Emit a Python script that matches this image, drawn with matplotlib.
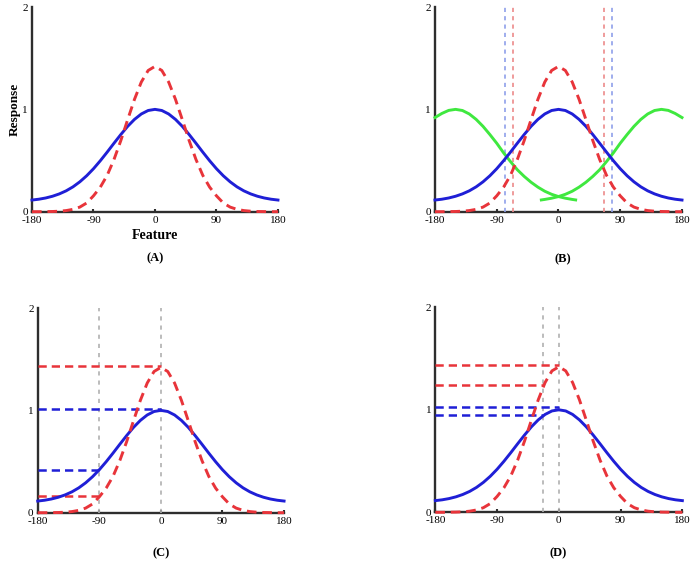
import numpy as np
import matplotlib

matplotlib.use('Agg')

import matplotlib.pyplot as plt

plt.rcParams['font.family'] = ['Liberation Serif', 'DejaVu Serif']

'''Data read off the picture'''

feature = [-180, -170, -160, -150, -140, -130, -120, -110, -100, -90, -80, -70, -60, -50, -40,
           -30, -20, -10, 0, 10, 20, 30, 40, 50, 60, 70, 80, 90, 100, 110, 120, 130, 140, 150,
           160, 170, 180]

# solid blue tuning curve
blue_resp = [0.114, 0.122, 0.134, 0.151, 0.174, 0.204, 0.243, 0.292, 0.351, 0.42, 0.498,
             0.582, 0.669, 0.754, 0.834, 0.902, 0.955, 0.989, 1.0, 0.989, 0.955, 0.902, 0.834,
             0.754, 0.669, 0.582, 0.498, 0.42, 0.351, 0.292, 0.243, 0.204, 0.174, 0.151, 0.134,
             0.122, 0.114]

# dashed red (sharpened) curve
red_resp = [0.0, 0.0, 0.001, 0.002, 0.005, 0.011, 0.023, 0.045, 0.085, 0.155, 0.24, 0.355,
            0.51, 0.695, 0.899, 1.098, 1.267, 1.38, 1.42, 1.38, 1.267, 1.098, 0.899, 0.695,
            0.51, 0.355, 0.24, 0.155, 0.085, 0.045, 0.023, 0.011, 0.005, 0.002, 0.001, 0.0, 0.0]

# green curves in panel B
green_left_x = [-180, -170, -160, -150, -140, -130, -120, -110, -100, -90, -80, -70, -60, -50,
                -40, -30, -20, -10, 0, 10, 20, 25]
green_left_y = [0.92, 0.96, 0.99, 1.0, 0.989, 0.955, 0.902, 0.834, 0.754, 0.669, 0.575, 0.49,
                0.41, 0.345, 0.288, 0.24, 0.2, 0.17, 0.148, 0.132, 0.12, 0.115]
green_right_x = [-25, -20, -10, 0, 10, 20, 30, 40, 50, 60, 70, 80, 90, 100, 110, 120, 130,
                 140, 150, 160, 170, 180]
green_right_y = [0.115, 0.12, 0.132, 0.148, 0.17, 0.2, 0.24, 0.288, 0.345, 0.41, 0.49, 0.575,
                 0.669, 0.754, 0.834, 0.902, 0.955, 0.989, 1.0, 0.99, 0.96, 0.92]

# panel B vertical markers
b_blue_vlines = [-78, 78]
b_red_vlines = [-67, 67]

# panel C markers
c_vlines = [-90, 0]
c_red_levels = [1.43, 0.163]
c_red_ends = [0, -90]
c_blue_levels = [1.01, 0.417]
c_blue_ends = [0, -90]

# panel D markers
d_vlines = [-23, 0]
d_red_levels = [1.437, 1.242]
d_red_ends = [0, -23]
d_blue_levels = [1.024, 0.949]
d_blue_ends = [0, -23]

xtick_vals = [-180, -90, 0, 90, 180]
xtick_labels = ['-180', '-90', '0', '90', '180']
ytick_vals = [0, 1, 2]
panel_names = ['(A)', '(B)', '(C)', '(D)']

BLUE = '#1f1fd6'
RED = '#e8343a'
GREEN = '#3fe83f'
GREY = '#b0b0b0'
AXIS = '#2e2e2e'


def setup_axes(ax):
    ax.set_xlim(-180, 180)
    ax.set_ylim(0, 2)
    for s in ['top', 'right']:
        ax.spines[s].set_visible(False)
    for s in ['left', 'bottom']:
        ax.spines[s].set_color(AXIS)
        ax.spines[s].set_linewidth(1.7)
        ax.spines[s].set_zorder(1)
    ax.set_xticks(xtick_vals)
    ax.set_xticklabels(xtick_labels)
    ax.set_yticks(ytick_vals)
    ax.tick_params(axis='x', direction='in', length=2.5, width=1.5, color=AXIS,
                   labelsize=8, pad=3)
    ax.tick_params(axis='y', length=0, labelsize=8, pad=3)
    ax.patch.set_alpha(0)


def draw_base(ax):
    ax.plot(feature, blue_resp, color=BLUE, lw=2.1, clip_on=False, zorder=4)
    ax.plot(feature, red_resp, color=RED, lw=2.1, ls=(0, (3.3, 2.0)), clip_on=False, zorder=5)


def draw_levels(ax, vlines, red_lv, red_end, blue_lv, blue_end):
    for v in vlines:
        ax.plot([v, v], [0, 2], color=GREY, lw=1.2, ls=(0, (2.5, 3)), clip_on=False, zorder=2)
    for lv, e in zip(red_lv, red_end):
        ax.plot([-180, e], [lv, lv], color=RED, lw=1.8, ls=(0, (3.3, 2.0)), zorder=3)
    for lv, e in zip(blue_lv, blue_end):
        ax.plot([-180, e], [lv, lv], color=BLUE, lw=1.8, ls=(0, (3.3, 2.0)), zorder=3)


fig = plt.figure(figsize=(7, 5.62), dpi=100)

axA = fig.add_axes([0.0457, 0.6233, 0.3514, 0.3642])
axB = fig.add_axes([0.6214, 0.6233, 0.3529, 0.3642])
axC = fig.add_axes([0.0539, 0.0877, 0.3519, 0.3642])
axD = fig.add_axes([0.6219, 0.0884, 0.3529, 0.3648])

for ax in [axA, axB, axC, axD]:
    setup_axes(ax)

# (A)
draw_base(axA)
axA.set_xlabel('Feature', fontsize=10, fontweight='bold', labelpad=3)
axA.set_ylabel('Response', fontsize=9.5, fontweight='bold', labelpad=1)

# (B)
for v in b_blue_vlines:
    axB.plot([v, v], [0, 2], color='#8fa0ea', lw=1.2, ls=(0, (2.5, 2.5)), clip_on=False, zorder=2)
for v in b_red_vlines:
    axB.plot([v, v], [0, 2], color='#ec8a8a', lw=1.2, ls=(0, (2.5, 2.5)), clip_on=False, zorder=2)
axB.plot(green_left_x, green_left_y, color=GREEN, lw=2.1, clip_on=False, zorder=3)
axB.plot(green_right_x, green_right_y, color=GREEN, lw=2.1, clip_on=False, zorder=3)
draw_base(axB)

# (C)
draw_levels(axC, c_vlines, c_red_levels, c_red_ends, c_blue_levels, c_blue_ends)
draw_base(axC)

# (D)
draw_levels(axD, d_vlines, d_red_levels, d_red_ends, d_blue_levels, d_blue_ends)
draw_base(axD)

# panel captions
fig.text(155 / 700, 1 - 258 / 562, panel_names[0], ha='center', va='center',
         fontsize=9, fontweight='bold')
fig.text(563 / 700, 1 - 259 / 562, panel_names[1], ha='center', va='center',
         fontsize=9, fontweight='bold')
fig.text(161 / 700, 1 - 553 / 562, panel_names[2], ha='center', va='center',
         fontsize=9, fontweight='bold')
fig.text(558 / 700, 1 - 553 / 562, panel_names[3], ha='center', va='center',
         fontsize=9, fontweight='bold')

fig.savefig('out.png', dpi=100)
